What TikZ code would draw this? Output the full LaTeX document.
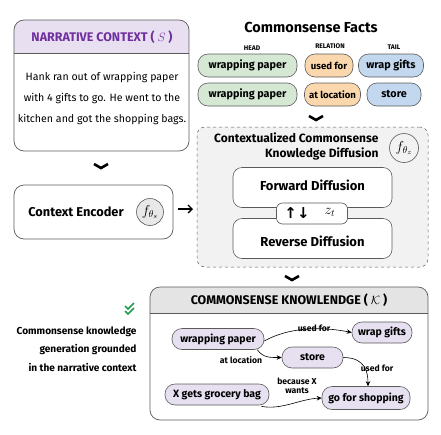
\documentclass[tikz,border=0pt]{standalone}
\usepackage{amsmath}
\usepackage{fontspec}
\setmainfont{Fira Sans}
\newfontfamily\arrfont{DejaVu Sans}
\usetikzlibrary{arrows.meta,calc}
\definecolor{hdrpurple}{HTML}{E8DFF0}
\definecolor{txtpurple}{HTML}{7030A0}
\definecolor{pgreen}{HTML}{D5E8D4}
\definecolor{porange}{HTML}{FAD7AC}
\definecolor{pblue}{HTML}{C3D8EE}
\definecolor{lav}{HTML}{E6E0F0}
\definecolor{boxgray}{HTML}{F2F2F2}
\definecolor{hdrgray}{HTML}{E4E4E4}
\definecolor{bordgray}{HTML}{5A5A5A}
\definecolor{chk}{HTML}{1E9E4A}
\definecolor{circfill}{HTML}{E8E8E8}
\begin{document}
\begin{tikzpicture}[x=1pt,y=-1pt,
  bigbox/.style={draw=bordgray,line width=0.7pt,rounded corners=10pt,inner sep=0pt},
  pill/.style={draw=bordgray,line width=0.6pt,rounded corners=10pt,minimum height=23pt,inner sep=2pt,font=\fontsize{10.8}{12}\selectfont\bfseries},
  kpill/.style={draw=bordgray,line width=0.6pt,rounded corners=10pt,fill=lav,minimum height=21pt,inner sep=2pt,font=\fontsize{10.5}{11}\selectfont\bfseries},
  colhead/.style={font=\fontsize{6.7}{8}\selectfont\bfseries},
  elabel/.style={font=\fontsize{8.6}{9}\selectfont\bfseries,align=center,inner sep=1pt},
  fcirc/.style={draw=bordgray,circle,fill=circfill,line width=0.6pt,inner sep=0pt,font=\fontsize{14}{15}\selectfont},
  chev/.style={line width=2.6pt,line cap=butt,line join=miter},
  edge/.style={line width=0.6pt,-{Stealth[length=5pt,width=4.5pt]}},
]
\useasboundingbox (0,0) rectangle (441,434);

% ---------- Narrative context ----------
\begin{scope}
\clip[rounded corners=10pt] (14,20) rectangle (189,151);
\fill[hdrpurple] (14,20) rectangle (189,53);
\end{scope}
\node[bigbox,minimum width=175pt,minimum height=131pt] (nc) at (101.5,85.5) {};
\draw[bordgray,line width=0.7pt] (nc.west |- 0,53) -- (nc.east |- 0,53);
\node[font=\fontsize{12.5}{14}\selectfont\bfseries,text=txtpurple] (nctitle) at (102,37) {NARRATIVE CONTEXT ( \textmd{$S$} )};
\node[align=center,font=\fontsize{10.6}{21}\selectfont] (nctext) at (102,98)
  {Hank ran out of wrapping paper\\with 4 gifts to go. He went to the\\kitchen and got the shopping bags.};

% chevron 1
\coordinate (ch1) at (101,168);
\draw[chev] ($(ch1)+(-7,-4)$) -- (ch1) -- ($(ch1)+(7,-4)$);

% ---------- Context encoder ----------
\node[bigbox,minimum width=159pt,minimum height=54pt] (ce) at (93.5,212) {};
\node[font=\fontsize{12.8}{15}\selectfont\bfseries] (cetext) at (76,212) {Context Encoder};
\node[fcirc,minimum size=27pt] (fs) at (150,212) {$f_{\theta_s}$};

% right arrow
\coordinate (ar1) at (178,209);
\coordinate (ar2) at (193,209);
\draw[line width=1.4pt,-{Straight Barb[length=4pt,width=8pt]}] (ar1) -- (ar2);

% ---------- Commonsense facts ----------
\node[font=\fontsize{14.5}{16}\selectfont\bfseries] (cft) at (311,27) {Commonsense Facts};
\node[colhead] (hh) at (252,48) {HEAD};
\node[colhead] (hr) at (330,46) {RELATION};
\node[colhead] (ht) at (394,47) {TAIL};
\node[pill,fill=pgreen,minimum width=99pt] (h1) at (247.5,65.5) {wrapping paper};
\node[pill,fill=porange,minimum width=48pt,font=\fontsize{9.6}{11}\selectfont\bfseries] (r1) at (329,65.5) {used for};
\node[pill,fill=pblue,minimum width=65pt] (t1) at (391,65.5) {wrap gifts};
\node[pill,fill=pgreen,minimum width=99pt] (h2) at (247.5,94.5) {wrapping paper};
\node[pill,fill=porange,minimum width=56pt,font=\fontsize{9.6}{11}\selectfont\bfseries] (r2) at (332.5,94.5) {at location};
\node[pill,fill=pblue,minimum width=54pt] (t2) at (394,94.5) {store};

% chevron 2
\coordinate (ch2) at (316,120);
\draw[chev] ($(ch2)+(-7,-4)$) -- (ch2) -- ($(ch2)+(7,-4)$);

% ---------- Diffusion box ----------
\node[draw=bordgray,dashed,line width=0.5pt,fill=boxgray,rounded corners=8pt,minimum width=231pt,minimum height=140pt,inner sep=0pt] (db) at (312.5,197) {};
\node[align=right,font=\fontsize{12}{15}\selectfont\bfseries,anchor=east] (dbt) at (382,146) {Contextualized Commonsense\\Knowledge Diffusion};
\node[fcirc,fill=boxgray,minimum size=29pt] (fz) at (404,148) {$f_{\theta_z}$};
\node[draw=bordgray,fill=white,line width=0.6pt,rounded corners=9pt,minimum width=159pt,minimum height=40pt] (fd) at (312.5,187.5) {};
\node[font=\fontsize{13}{14}\selectfont\bfseries] (fdt) at (312.5,185) {Forward Diffusion};
\node[draw=bordgray,fill=white,line width=0.6pt,rounded corners=9pt,minimum width=159pt,minimum height=40pt] (rd) at (312.5,238.5) {};
\node[font=\fontsize{13}{14}\selectfont\bfseries] (rdt) at (312.5,241) {Reverse Diffusion};
\node[draw=bordgray,fill=white,line width=0.6pt,rounded corners=6pt,minimum width=71pt,minimum height=21pt,inner sep=0pt] (zt) at (312,213.5) {};
\node[font=\fontsize{15}{16}\selectfont\arrfont\bfseries,inner sep=0pt] (ud) at (297,213.5) {↑↓};
\node[font=\fontsize{14}{15}\selectfont] (ztt) at (330,212.5) {$z_t$};

% chevron 3
\coordinate (ch3) at (292,280);
\draw[chev] ($(ch3)+(-7,-4)$) -- (ch3) -- ($(ch3)+(7,-4)$);

% ---------- Commonsense knowledge ----------
\begin{scope}
\clip[rounded corners=10pt] (150,287) rectangle (428,420);
\fill[hdrgray] (150,287) rectangle (428,313);
\end{scope}
\node[bigbox,minimum width=278pt,minimum height=133pt] (ck) at (289,353.5) {};
\draw[bordgray,line width=0.7pt] (ck.west |- 0,313) -- (ck.east |- 0,313);
\node[font=\fontsize{12.5}{14}\selectfont\bfseries] (ckt) at (289,300) {COMMONSENSE KNOWLENDGE ( \textmd{$\mathcal{K}$} )};

\node[kpill,minimum width=92pt] (wp) at (218,339) {wrapping paper};
\node[kpill,minimum width=60pt] (wg) at (382,332.5) {wrap gifts};
\node[kpill,minimum width=61pt] (st) at (312.5,357.5) {store};
\node[kpill,minimum width=104pt] (xg) at (217,394.5) {X gets grocery bag};
\node[kpill,minimum width=88pt,minimum height=23pt] (gs) at (366,398) {go for shopping};

\draw[edge] ([yshift=-2pt]wp.east) .. controls +(25,-14) and +(-30,-6) .. (wg.west);
\node[elabel] (l1) at (314,328) {used for};
\draw[edge] ([xshift=-7pt]wp.south east) .. controls +(6,8) and +(-12,0) .. (st.west);
\node[elabel] (l2) at (241,360) {at location};
\draw[edge] (st.east) .. controls +(22,0) and +(0,-14) .. ([xshift=2pt]gs.north);
\node[elabel] (l3) at (377,368) {used for};
\draw[edge] ([xshift=-8pt,yshift=-1pt]xg.south east) .. controls +(20,4) and +(-22,1) .. (gs.west);
\node[elabel] (l4) at (297,386) {because X\\wants};

% ---------- left note ----------
\node[align=right,font=\fontsize{10.1}{18.5}\selectfont\bfseries,anchor=east] (note) at (140,349) {Commonsense knowledge\\generation grounded\\in the narrative context};
\coordinate (ck1) at (125,306);
\draw[chk,line width=1.5pt] (ck1) -- ++(3,3) -- ++(6,-6);
\draw[chk,line width=1.5pt] ($(ck1)+(0,5)$) -- ++(3,3) -- ++(6,-6);
\end{tikzpicture}
\end{document}
